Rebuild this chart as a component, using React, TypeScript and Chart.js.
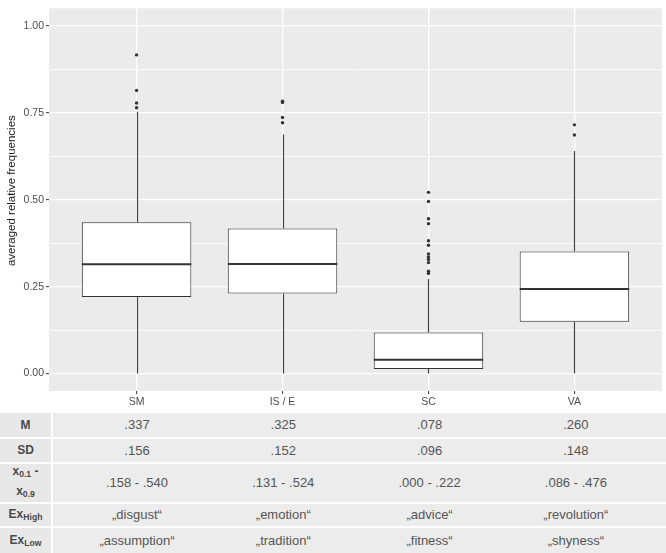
import React, { useEffect, useRef } from "react";
import { Chart, registerables } from "chart.js";

Chart.register(...registerables);

const categories = ["SM", "IS / E", "SC", "VA"];
const whiskerLow = [0, 0, 0, 0];
const q1 = [0.22, 0.23, 0.013, 0.149];
const medians = [0.314, 0.315, 0.04, 0.243];
const q3 = [0.435, 0.417, 0.118, 0.351];
const whiskerHigh = [0.753, 0.687, 0.272, 0.64];
const outliersSM = [0.916, 0.814, 0.778, 0.764];
const outliersISE = [0.783, 0.779, 0.736, 0.721];
const outliersSC = [0.521, 0.495, 0.445, 0.431, 0.382, 0.369, 0.344, 0.335, 0.328, 0.319, 0.294, 0.288];
const outliersVA = [0.715, 0.686];
const yMajorTicks = [0, 0.25, 0.5, 0.75, 1];
const yMinorTicks = [0.125, 0.375, 0.625, 0.875];
const yTitle = "averaged relative frequencies";

const tableM = [".337", ".325", ".078", ".260"];
const tableSD = [".156", ".152", ".096", ".148"];
const tableRange = [".158 - .540", ".131 - .524", ".000 - .222", ".086 - .476"];
const tableExHigh = ["\u201Edisgust\u201C", "\u201Eemotion\u201C", "\u201Eadvice\u201C", "\u201Erevolution\u201C"];
const tableExLow = ["\u201Eassumption\u201C", "\u201Etradition\u201C", "\u201Efitness\u201C", "\u201Eshyness\u201C"];

const FONT = "'Liberation Sans', Arial, sans-serif";

const boxExtras = {
  id: "boxExtras",
  beforeDraw(chart: any) {
    const { ctx, chartArea } = chart;
    ctx.save();
    ctx.fillStyle = "#EBEBEB";
    ctx.fillRect(chartArea.left, chartArea.top, chartArea.right - chartArea.left, chartArea.bottom - chartArea.top);
    ctx.restore();
  },
  afterDatasetsDraw(chart: any) {
    const { ctx } = chart;
    const xs = chart.scales.x;
    const ys = chart.scales.y;
    const meta = chart.getDatasetMeta(0);
    ctx.save();
    categories.forEach((_, i) => {
      const x = Math.round(xs.getPixelForValue(i + 1)) + 0.5;
      ctx.strokeStyle = "#444444";
      ctx.lineWidth = 1.2;
      ctx.beginPath();
      ctx.moveTo(x, ys.getPixelForValue(whiskerHigh[i]));
      ctx.lineTo(x, ys.getPixelForValue(q3[i]));
      ctx.moveTo(x, ys.getPixelForValue(q1[i]));
      ctx.lineTo(x, ys.getPixelForValue(whiskerLow[i]));
      ctx.stroke();
      const bar = meta.data[i];
      const half = bar.width / 2;
      const bx = bar.x;
      ctx.strokeStyle = "#333333";
      ctx.lineWidth = 2;
      ctx.beginPath();
      const my = ys.getPixelForValue(medians[i]);
      ctx.moveTo(bx - half, my);
      ctx.lineTo(bx + half, my);
      ctx.stroke();
    });
    ctx.restore();
  },
  afterDraw(chart: any) {
    const { ctx, chartArea } = chart;
    ctx.save();
    ctx.translate(12, (chartArea.top + chartArea.bottom) / 2 - 9);
    ctx.rotate(-Math.PI / 2);
    ctx.textAlign = "center";
    ctx.textBaseline = "middle";
    ctx.fillStyle = "#1A1A1A";
    ctx.font = `11.5px ${FONT}`;
    ctx.fillText(yTitle, 0, 0);
    ctx.restore();
  },
};

function ChartView() {
  const ref = useRef<HTMLCanvasElement | null>(null);
  useEffect(() => {
    if (!ref.current) return;
    const outlierSets = [outliersSM, outliersISE, outliersSC, outliersVA];
    const outlierPoints: { x: number; y: number }[] = [];
    outlierSets.forEach((arr, i) => arr.forEach((v) => outlierPoints.push({ x: i + 1, y: v })));
    const chart = new Chart(ref.current, {
      type: "bar",
      data: {
        datasets: [
          {
            type: "bar",
            data: categories.map((_, i) => ({ x: i + 1, y: [q1[i], q3[i]] })) as any,
            backgroundColor: "#FFFFFF",
            borderColor: "#333333",
            borderWidth: 1,
            borderSkipped: false,
            barPercentage: 0.75,
            categoryPercentage: 1,
            grouped: false,
          } as any,
          {
            type: "scatter",
            data: outlierPoints,
            pointRadius: 1.7,
            pointBackgroundColor: "#333333",
            pointBorderWidth: 0,
          } as any,
        ],
      },
      options: {
        animation: false,
        responsive: false,
        maintainAspectRatio: false,
        layout: { padding: { top: 1, right: 2, left: 0, bottom: 0 } },
        plugins: { legend: { display: false }, tooltip: { enabled: false } },
        scales: {
          x: {
            type: "linear",
            min: 0.4,
            max: 4.6,
            offset: false,
            afterBuildTicks: (s: any) => {
              s.ticks = categories.map((_, i) => ({ value: i + 1 }));
            },
            afterFit: (s: any) => {
              s.height = 21;
            },
            ticks: {
              callback: (v: any) => categories[Math.round(Number(v)) - 1] ?? "",
              color: "#4D4D4D",
              font: { family: FONT, size: 10.5 },
              padding: 2,
              maxRotation: 0,
              autoSkip: false,
            },
            grid: { offset: false, color: "#FFFFFF", lineWidth: 1.3, tickLength: 3, tickColor: "#333333", tickWidth: 1 },
            border: { display: false },
          },
          y: {
            type: "linear",
            min: -0.05,
            max: 1.05,
            afterBuildTicks: (s: any) => {
              s.ticks = [...yMajorTicks, ...yMinorTicks].sort((a, b) => a - b).map((v) => ({ value: v }));
            },
            afterFit: (s: any) => {
              s.width = 49;
            },
            ticks: {
              callback: (v: any) => (yMajorTicks.includes(Number(v)) ? Number(v).toFixed(2) : ""),
              color: "#4D4D4D",
              font: { family: FONT, size: 10.5 },
              padding: 2,
              autoSkip: false,
            },
            grid: {
              color: "#FFFFFF",
              lineWidth: (c: any) => (yMinorTicks.includes(c.tick?.value) ? 0.7 : 1.3),
              tickLength: 3,
              tickColor: (c: any) => (yMinorTicks.includes(c.tick?.value) ? "rgba(0,0,0,0)" : "#333333"),
              tickWidth: 1,
            },
            border: { display: false },
            title: { display: false },
          },
        },
      },
      plugins: [boxExtras],
    });
    return () => chart.destroy();
  }, []);
  return <canvas ref={ref} width={666} height={412} style={{ position: "absolute", left: 0, top: 0, width: 666, height: 412 }} />;
}

const colCenter = (i: number) => 49.2 + (0.6 + i) * 146.3;

function Sub({ base, sub }: { base: string; sub: string }) {
  return (
    <span>
      {base}
      <sub style={{ fontSize: "0.72em", verticalAlign: "-0.25em" }}>{sub}</sub>
    </span>
  );
}

export default function App() {
  const rows: { top: number; h: number; label: React.ReactNode; values: string[] }[] = [
    { top: 413, h: 23.5, label: "M", values: tableM },
    { top: 438.5, h: 23, label: "SD", values: tableSD },
    {
      top: 463.5,
      h: 38,
      label: (
        <span style={{ lineHeight: "16px", display: "inline-block" }}>
          <Sub base="x" sub="0.1" /> -<br />
          <Sub base="x" sub="0.9" />
        </span>
      ),
      values: tableRange,
    },
    { top: 503.5, h: 22, label: <Sub base="Ex" sub="High" />, values: tableExHigh },
    { top: 527.5, h: 25.5, label: <Sub base="Ex" sub="Low" />, values: tableExLow },
  ];
  return (
    <div style={{ position: "absolute", left: 0, top: 0, width: 666, height: 553, background: "#FFFFFF", overflow: "hidden", fontFamily: FONT }}>
      <ChartView />
      {rows.map((r, ri) => (
        <div key={ri} style={{ position: "absolute", left: 0, top: r.top, width: 666, height: r.h, background: "#ECECEC" }}>
          <div
            style={{
              position: "absolute",
              left: 0,
              top: 0,
              width: 51,
              height: r.h,
              display: "flex",
              alignItems: "center",
              justifyContent: "center",
              fontWeight: "bold",
              fontSize: 12,
              color: "#4A4A4A",
              background: "#E8E8E8",
              textAlign: "center",
            }}
          >
            {r.label}
          </div>
          <div style={{ position: "absolute", left: 51, top: 0, width: 2, height: r.h, background: "#FFFFFF" }} />
          {r.values.map((v, i) => (
            <div
              key={i}
              style={{
                position: "absolute",
                left: colCenter(i) - 73,
                top: 0,
                width: 146,
                height: r.h,
                display: "flex",
                alignItems: "center",
                justifyContent: "center",
                fontSize: 13,
                color: "#555555",
                whiteSpace: "nowrap",
              }}
            >
              {v}
            </div>
          ))}
        </div>
      ))}
    </div>
  );
}
